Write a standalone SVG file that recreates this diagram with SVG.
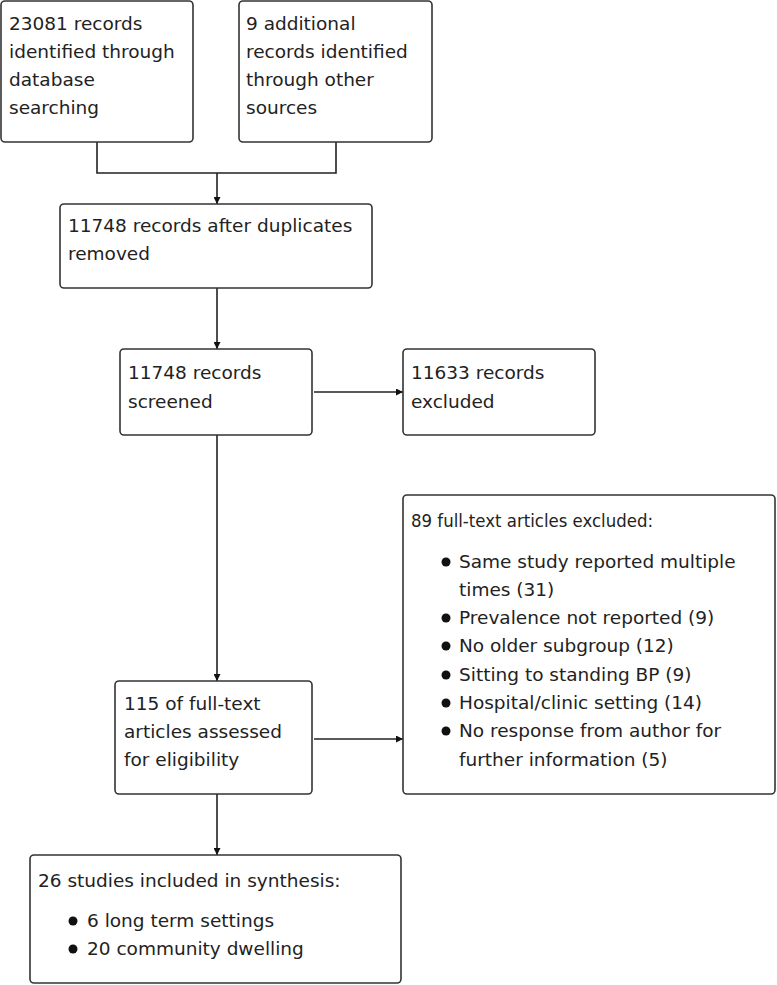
<svg xmlns="http://www.w3.org/2000/svg" width="777" height="985" viewBox="0 0 777 985">
<style>
.b{fill:#fff;stroke:#333;stroke-width:1.6}
.t{font-family:"DejaVu Sans",Verdana,sans-serif;font-size:18.5px;fill:#222}
.c{fill:none;stroke:#222;stroke-width:1.6}
.d{fill:#111}
</style>
<defs>
<marker id="a" viewBox="0 0 10 10" refX="10" refY="5" markerWidth="7" markerHeight="7" markerUnits="userSpaceOnUse" orient="auto">
<path d="M0,0 L10,5 L0,10 z" fill="#111"/>
</marker>
</defs>
<rect width="777" height="985" fill="#fff"/>
<g id="connectors">
<path class="c" d="M97,142 V173 H336 V142"/>
<path class="c" d="M217,173 V204" marker-end="url(#a)"/>
<path class="c" d="M217,288 V349" marker-end="url(#a)"/>
<path class="c" d="M314,392 H403" marker-end="url(#a)"/>
<path class="c" d="M217,435 V681" marker-end="url(#a)"/>
<path class="c" d="M314,739 H403" marker-end="url(#a)"/>
<path class="c" d="M217,794 V855" marker-end="url(#a)"/>
</g>
<g id="n1">
<rect class="b" x="1" y="1" width="192" height="141" rx="4"/>
<text class="t" x="9" y="30">23081 records</text>
<text class="t" x="9" y="58">identified through</text>
<text class="t" x="9" y="86">database</text>
<text class="t" x="9" y="114">searching</text>
</g>
<g id="n2">
<rect class="b" x="239" y="1" width="193" height="141" rx="4"/>
<text class="t" x="246" y="30">9 additional</text>
<text class="t" x="246" y="58">records identified</text>
<text class="t" x="246" y="86">through other</text>
<text class="t" x="246" y="114">sources</text>
</g>
<g id="n3">
<rect class="b" x="60" y="204" width="312" height="84" rx="4"/>
<text class="t" x="68" y="232">11748 records after duplicates</text>
<text class="t" x="68" y="260">removed</text>
</g>
<g id="n4">
<rect class="b" x="120" y="349" width="192" height="86" rx="4"/>
<text class="t" x="128" y="379">11748 records</text>
<text class="t" x="128" y="408">screened</text>
</g>
<g id="n5">
<rect class="b" x="403" y="349" width="192" height="86" rx="4"/>
<text class="t" x="411" y="379">11633 records</text>
<text class="t" x="411" y="408">excluded</text>
</g>
<g id="n6">
<rect class="b" x="115" y="681" width="197" height="113" rx="4"/>
<text class="t" x="124" y="710">115 of full-text</text>
<text class="t" x="124" y="738">articles assessed</text>
<text class="t" x="124" y="766">for eligibility</text>
</g>
<g id="n7">
<rect class="b" x="403" y="495" width="372" height="299" rx="4"/>
<text class="t" x="411" y="527" textLength="242" lengthAdjust="spacingAndGlyphs">89 full-text articles excluded:</text>
<circle class="d" cx="446" cy="562" r="4.5"/>
<text class="t" x="459" y="568">Same study reported multiple</text>
<text class="t" x="459" y="596">times (31)</text>
<circle class="d" cx="446" cy="618" r="4.5"/>
<text class="t" x="459" y="624">Prevalence not reported (9)</text>
<circle class="d" cx="446" cy="646" r="4.5"/>
<text class="t" x="459" y="652">No older subgroup (12)</text>
<circle class="d" cx="446" cy="675" r="4.5"/>
<text class="t" x="459" y="681">Sitting to standing BP (9)</text>
<circle class="d" cx="446" cy="703" r="4.5"/>
<text class="t" x="459" y="709">Hospital/clinic setting (14)</text>
<circle class="d" cx="446" cy="731" r="4.5"/>
<text class="t" x="459" y="737">No response from author for</text>
<text class="t" x="459" y="766">further information (5)</text>
</g>
<g id="n8">
<rect class="b" x="30" y="855" width="371" height="128" rx="4"/>
<text class="t" x="38" y="887">26 studies included in synthesis:</text>
<circle class="d" cx="73" cy="921" r="4.5"/>
<text class="t" x="87" y="927">6 long term settings</text>
<circle class="d" cx="73" cy="949" r="4.5"/>
<text class="t" x="87" y="955">20 community dwelling</text>
</g>
</svg>
